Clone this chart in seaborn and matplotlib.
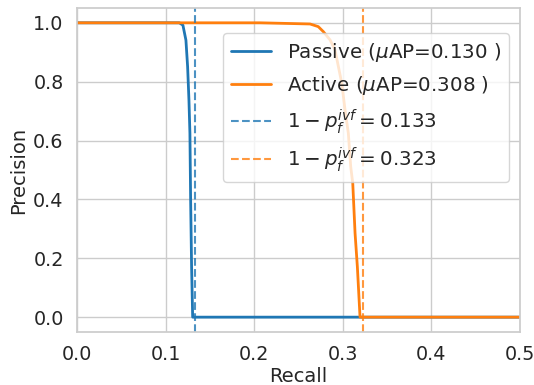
import matplotlib
matplotlib.use("Agg")
import matplotlib.pyplot as plt
import seaborn as sns
import pandas as pd

passive_recall = [0.0, 0.1155, 0.1196, 0.1230, 0.1249, 0.1264, 0.1275, 0.1283, 0.1294, 0.1306, 0.5]
passive_precision = [1.0, 1.0, 0.992, 0.941, 0.851, 0.738, 0.625, 0.399, 0.170, 0.0, 0.0]
active_recall = [0.0, 0.2065, 0.2630, 0.2723, 0.2780, 0.2856, 0.2912, 0.2950, 0.2988, 0.3025,
                 0.3062, 0.3089, 0.3112, 0.3138, 0.3164, 0.3194, 0.5]
active_precision = [1.0, 1.0, 0.996, 0.987, 0.970, 0.942, 0.908, 0.851, 0.795, 0.704,
                    0.625, 0.511, 0.455, 0.285, 0.171, 0.0, 0.0]
passive_label = r"Passive ($\mu$AP=0.130 )"
active_label = r"Active ($\mu$AP=0.308 )"
thr_values = [0.133, 0.323]
thr_labels = [r"$1-p_f^{ivf}=0.133$", r"$1-p_f^{ivf}=0.323$"]

sns.set_theme(style="whitegrid", font_scale=1.3,
              rc={"axes.labelsize": 14, "xtick.labelsize": 13.8, "ytick.labelsize": 13.8,
                  "legend.fontsize": 14.3})

fig, ax = plt.subplots(figsize=(5.34, 3.85), dpi=100)
blue, orange = "#1f77b4", "#ff7f0e"

df_p = pd.DataFrame({"Recall": passive_recall, "Precision": passive_precision})
df_a = pd.DataFrame({"Recall": active_recall, "Precision": active_precision})
sns.lineplot(data=df_p, x="Recall", y="Precision", ax=ax, color=blue, lw=2,
             label=passive_label, sort=False, estimator=None)
sns.lineplot(data=df_a, x="Recall", y="Precision", ax=ax, color=orange, lw=2,
             label=active_label, sort=False, estimator=None)
ax.axvline(thr_values[0], color=blue, ls="--", lw=1.5, alpha=0.8, label=thr_labels[0])
ax.axvline(thr_values[1], color=orange, ls="--", lw=1.5, alpha=0.8, label=thr_labels[1])

ax.set_xlim(0, 0.5)
ax.set_ylim(-0.05, 1.05)
ax.set_xlabel("Recall", labelpad=2)
ax.set_ylabel("Precision")
ax.legend(loc="upper right", bbox_to_anchor=(0.975, 0.923), borderaxespad=0)

fig.subplots_adjust(left=0.144, right=0.974, top=0.979, bottom=0.138)
fig.savefig("out.png", dpi=100)
